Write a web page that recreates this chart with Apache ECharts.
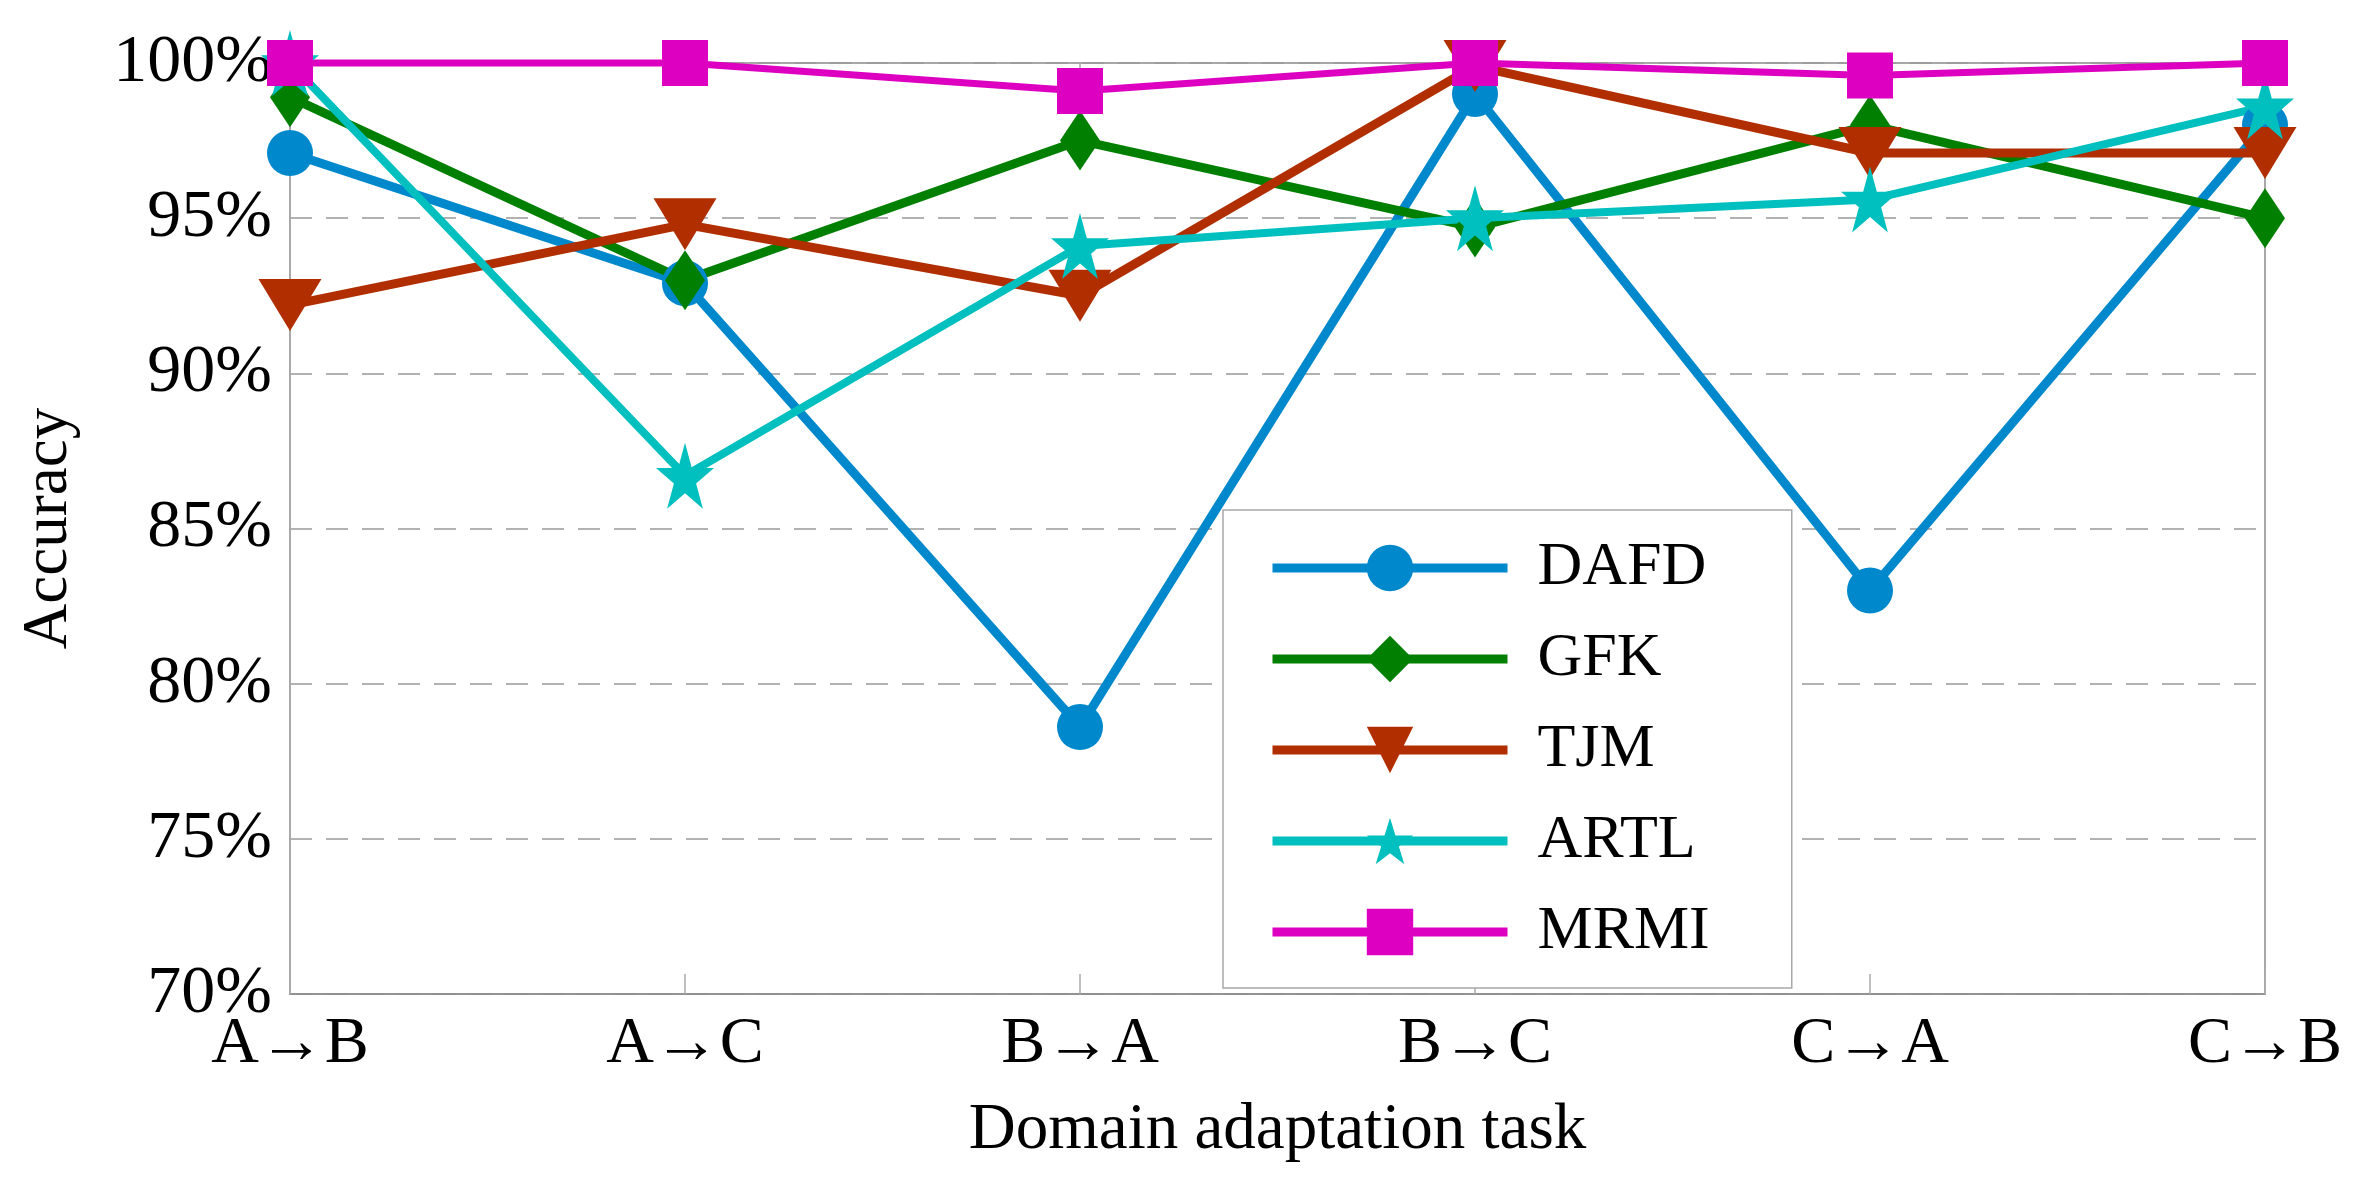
<!DOCTYPE html>
<html>
<head>
<meta charset="utf-8">
<script src="https://cdn.jsdelivr.net/npm/echarts@6/dist/echarts.min.js"></script>
<style>
html,body{margin:0;padding:0;background:#fff;}
#chart{width:2368px;height:1187px;}
</style>
</head>
<body>
<div id="chart"></div>
<script>
const categories = ['A\u2192B', 'A\u2192C', 'B\u2192A', 'B\u2192C', 'C\u2192A', 'C\u2192B'];
const DAFD = [97.1, 92.9, 78.6, 99.0, 83.0, 98.0];
const GFK  = [98.9, 93.0, 97.5, 94.7, 98.0, 95.0];
const TJM  = [92.2, 94.8, 92.5, 99.9, 97.1, 97.1];
const ARTL = [100.0, 86.7, 94.1, 95.0, 95.6, 98.6];
const MRMI = [100.0, 100.0, 99.1, 100.0, 99.6, 100.0];
const yMin = 70, yMax = 100, yStep = 5;

const FONT = '"Liberation Serif", "Times New Roman", serif';
const STAR = 'path://M50,0 L61.2,34.5 L97.6,34.5 L68.2,55.9 L79.4,90.5 L50,69.1 L20.6,90.5 L31.8,55.9 L2.4,34.5 L38.8,34.5 Z';

function mk(name, data, color, symbol, size, lw, rot) {
  return {
    name: name, type: 'line', data: data,
    symbol: symbol, symbolSize: size, symbolRotate: rot || 0,
    symbolKeepAspect: false,
    lineStyle: {color: color, width: lw},
    itemStyle: {color: color},
    emphasis: {disabled: true},
    clip: false,
    animation: false
  };
}

const chart = echarts.init(document.getElementById('chart'), null, {renderer: 'canvas'});
chart.setOption({
  backgroundColor: '#fff',
  animation: false,
  grid: {left: 290, right: 103, top: 63, bottom: 193, show: true, borderColor: '#8c8c8c', borderWidth: 1.5, backgroundColor: 'transparent'},
  legend: {
    orient: 'vertical', left: 1223, top: 510,
    backgroundColor: '#fff', borderColor: '#a8a8a8', borderWidth: 1.5,
    padding: [27, 82, 25, 45],
    itemWidth: 235, itemHeight: 58, itemGap: 29,
    lineStyle: {width: 9},
    textStyle: {fontFamily: FONT, fontSize: 62, color: '#000', padding: [0, 0, 0, 25]},
    data: ['DAFD', 'GFK', 'TJM', 'ARTL', 'MRMI']
  },
  xAxis: [{
    type: 'category', data: categories, boundaryGap: false,
    axisLine: {lineStyle: {color: '#8c8c8c', width: 1.5}},
    axisTick: {inside: true, length: 20, lineStyle: {color: '#aaa', width: 1.5}},
    axisLabel: {fontFamily: FONT, fontSize: 66, color: '#000', margin: 18},
    splitLine: {show: false},
    name: 'Domain adaptation task', nameLocation: 'middle', nameGap: 104,
    nameTextStyle: {fontFamily: FONT, fontSize: 65, color: '#000'}
  }, {
    type: 'category', data: categories, boundaryGap: false, position: 'top',
    axisLine: {show: false},
    axisTick: {inside: true, length: 20, lineStyle: {color: '#aaa', width: 1.5}},
    axisLabel: {show: false}, splitLine: {show: false}
  }],
  yAxis: {
    type: 'value', min: yMin, max: yMax, interval: yStep,
    axisLine: {show: true, lineStyle: {color: '#aaa', width: 1.5}},
    axisTick: {show: false},
    axisLabel: {fontFamily: FONT, fontSize: 68, color: '#000', margin: 18, formatter: '{value}%'},
    splitLine: {show: true, lineStyle: {color: '#999', width: 1.5, type: [22, 14]}},
    name: 'Accuracy', nameLocation: 'middle', nameGap: 209,
    nameTextStyle: {fontFamily: FONT, fontSize: 63, color: '#000'}
  },
  series: [
    mk('DAFD', DAFD, '#0088cc', 'circle', 46, 9),
    mk('GFK', GFK, '#007f00', 'diamond', [40, 60], 9),
    mk('TJM', TJM, '#b02e00', 'triangle', [63, 52], 9, 180),
    mk('ARTL', ARTL, '#00bfbf', STAR, [58, 66], 8),
    mk('MRMI', MRMI, '#dd00c0', 'rect', 46, 7)
  ]
});
</script>
</body>
</html>
